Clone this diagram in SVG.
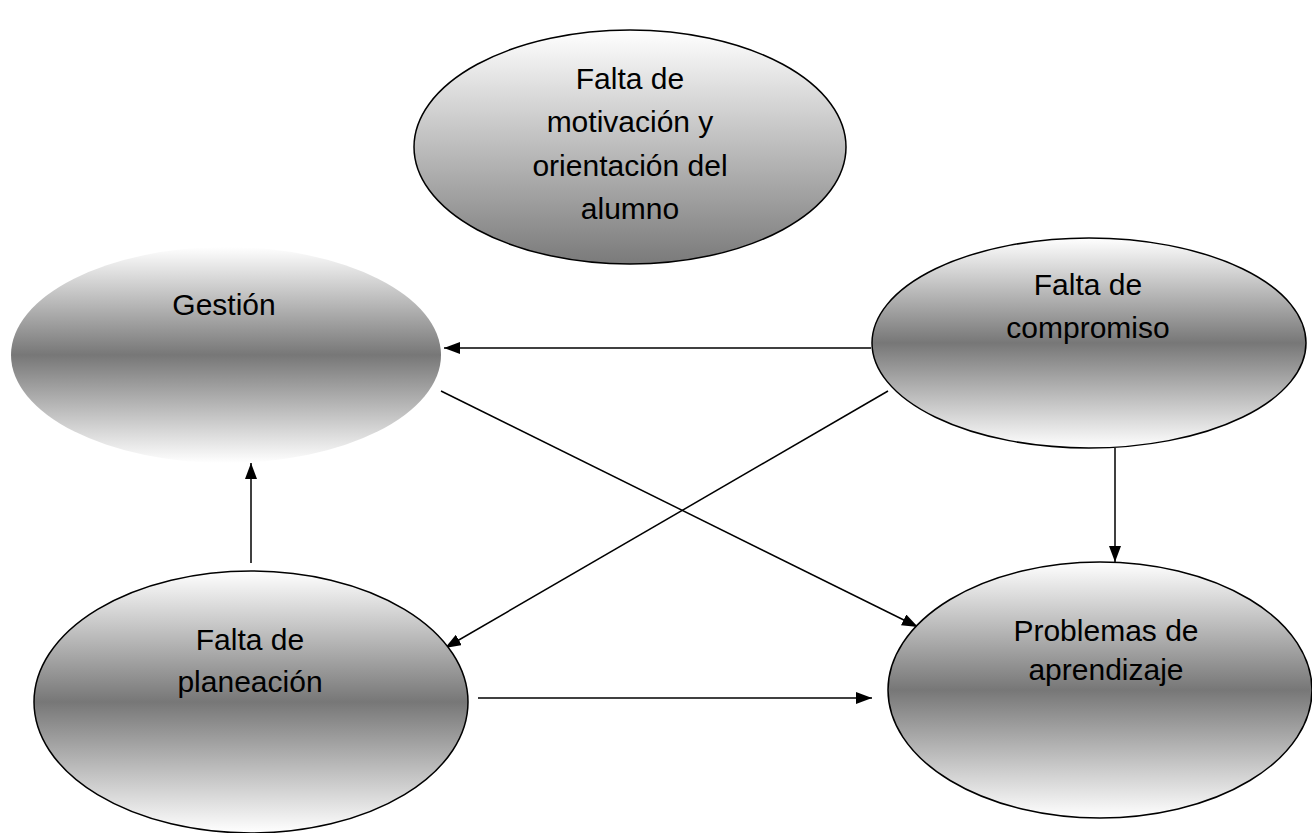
<svg xmlns="http://www.w3.org/2000/svg" width="1312" height="833" viewBox="0 0 1312 833">
<style>
.lbl{font-family:"Liberation Sans",Arial,sans-serif;font-size:30px;fill:#000;text-anchor:middle}
.node{stroke:#000;stroke-width:1.5}
.edge{stroke:#000;stroke-width:1.5;fill:none;marker-end:url(#ah)}
</style>
<defs>
<linearGradient id="gTop" x1="0" y1="0" x2="0" y2="1">
<stop offset="0" stop-color="#ffffff"/>
<stop offset="1" stop-color="#7a7a7a"/>
</linearGradient>
<linearGradient id="gMid" x1="0" y1="0" x2="0" y2="1">
<stop offset="0" stop-color="#ffffff"/>
<stop offset="0.5" stop-color="#777777"/>
<stop offset="1" stop-color="#ffffff"/>
</linearGradient>
<marker id="ah" viewBox="0 0 16 12" refX="16" refY="6" markerWidth="16" markerHeight="12" markerUnits="userSpaceOnUse" orient="auto">
<path d="M0,0 L16,6 L0,12 Z" fill="#000"/>
</marker>
</defs>
<rect width="1312" height="833" fill="#fff"/>
<g id="connectors">
<line class="edge" x1="871" y1="348" x2="444" y2="348"/>
<line class="edge" x1="888" y1="391" x2="445" y2="648"/>
<line class="edge" x1="441" y1="391" x2="918" y2="627"/>
<line class="edge" x1="1115" y1="448" x2="1115" y2="562"/>
<line class="edge" x1="251" y1="563" x2="251" y2="463"/>
<line class="edge" x1="478" y1="698" x2="872" y2="698"/>
</g>
<g id="node-motivacion">
<ellipse class="node" cx="630" cy="147" rx="216" ry="117" fill="url(#gTop)"/>
<text class="lbl" x="630" y="89">Falta de</text>
<text class="lbl" x="630" y="132">motivación y</text>
<text class="lbl" x="630" y="176">orientación del</text>
<text class="lbl" x="630" y="219">alumno</text>
</g>
<g id="node-gestion">
<ellipse cx="226" cy="355" rx="215" ry="108" fill="url(#gMid)"/>
<text class="lbl" x="224" y="315">Gestión</text>
</g>
<g id="node-compromiso">
<ellipse class="node" cx="1089" cy="343" rx="217" ry="105" fill="url(#gMid)"/>
<text class="lbl" x="1088" y="295">Falta de</text>
<text class="lbl" x="1088" y="338">compromiso</text>
</g>
<g id="node-planeacion">
<ellipse class="node" cx="251" cy="702" rx="217" ry="131" fill="url(#gMid)"/>
<text class="lbl" x="250" y="650">Falta de</text>
<text class="lbl" x="250" y="692">planeación</text>
</g>
<g id="node-problemas">
<ellipse class="node" cx="1100" cy="690" rx="212" ry="128" fill="url(#gMid)"/>
<text class="lbl" x="1106" y="641">Problemas de</text>
<text class="lbl" x="1106" y="680">aprendizaje</text>
</g>
</svg>
